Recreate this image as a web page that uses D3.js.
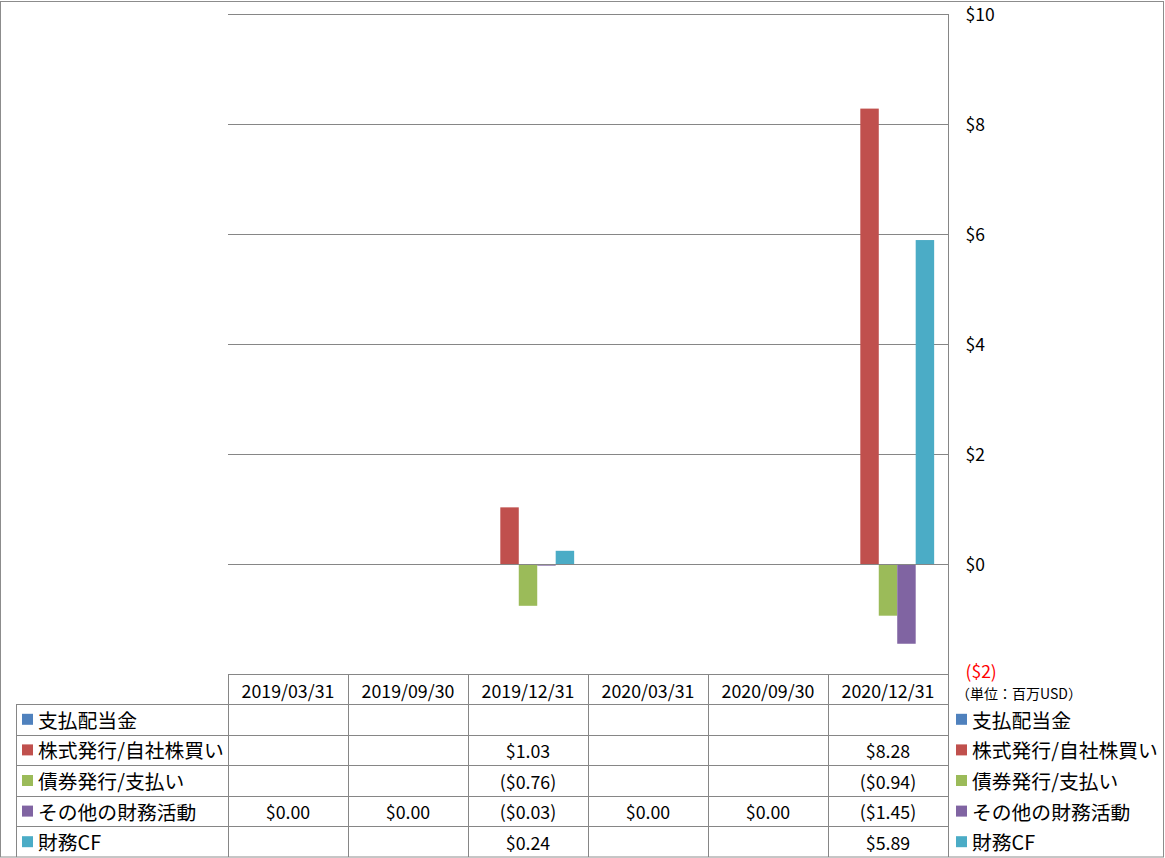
<!DOCTYPE html>
<html><head><meta charset="utf-8">
<script src="https://cdn.jsdelivr.net/npm/d3@7"></script>
<style>
html,body{margin:0;padding:0;background:#fff;}
svg{display:block;font-family:"Noto Sans CJK JP","Noto Sans",sans-serif;}
</style></head>
<body>
<script>
const categories = ["2019/03/31","2019/09/30","2019/12/31","2020/03/31","2020/09/30","2020/12/31"];
const seriesNames = ["支払配当金","株式発行/自社株買い","債券発行/支払い","その他の財務活動","財務CF"];
const seriesColors = ["#4F81BD","#C0504D","#9BBB59","#8064A2","#4BACC6"];
const dividends   = [null,null,null,null,null,null];
const equity      = [null,null,1.03,null,null,8.28];
const debt        = [null,null,-0.76,null,null,-0.94];
const otherFin    = [0,0,-0.03,0,0,-1.45];
const financingCF = [null,null,0.24,null,null,5.89];
const yTicks = [-2,0,2,4,6,8,10];
const unitLabel = "（単位：百万USD）";

const seriesValues = [dividends,equity,debt,otherFin,financingCF];

const W=1165,H=858;
const svg=d3.select("body").append("svg").attr("width",W).attr("height",H);
const grid="#868686";

svg.append("rect").attr("x",0.5).attr("y",1.5).attr("width",1163).attr("height",855.5)
  .attr("fill","none").attr("stroke","#8c8c8c");

const plotL=228,plotR=948,plotT=14,plotB=674;
const x=d3.scaleBand().domain(categories).range([plotL,plotR]).paddingInner(0).paddingOuter(0);
const xs=d3.scaleBand().domain(d3.range(seriesNames.length)).range([0,x.bandwidth()]).paddingInner(0).paddingOuter(0.75);
const y=d3.scaleLinear().domain([-2,10]).range([plotB,plotT]);

svg.append("g").selectAll("line").data(yTicks.filter(t=>t>-2)).join("line")
  .attr("x1",plotL).attr("x2",plotR)
  .attr("y1",d=>Math.round(y(d))+0.5).attr("y2",d=>Math.round(y(d))+0.5)
  .attr("stroke",grid).attr("stroke-width",1);

const barData=[];
seriesValues.forEach((vals,si)=>vals.forEach((v,ci)=>{ if(v!==null && v!==0) barData.push({si,ci,v}); }));
svg.append("g").selectAll("rect").data(barData).join("rect")
  .attr("x",d=>x(categories[d.ci])+xs(d.si))
  .attr("width",xs.bandwidth())
  .attr("y",d=>y(Math.max(0,d.v)))
  .attr("height",d=>Math.max(1,Math.abs(y(d.v)-y(0))))
  .attr("fill",d=>seriesColors[d.si]);

svg.append("line").attr("x1",plotL).attr("x2",plotR)
  .attr("y1",Math.round(y(0))+0.5).attr("y2",Math.round(y(0))+0.5).attr("stroke",grid);

const axis=d3.axisRight(y).tickValues(yTicks).tickSize(0).tickPadding(17)
  .tickFormat(d=>d<0?`($${Math.abs(d)})`:`$${d}`);
const ag=svg.append("g").attr("transform",`translate(${plotR+0.5},0)`).call(axis);
ag.select(".domain").remove();
ag.selectAll("text").attr("font-size","17.5px").attr("font-family","'Noto Sans CJK JP'")
  .attr("fill",d=>d<0?"#ff0000":"#000").attr("dy","0.35em");
ag.selectAll(".tick").filter(d=>d<0).select("text").attr("dy","0.2em");

svg.append("text").attr("x",956).attr("y",693).attr("font-size","14px").attr("dominant-baseline","central")
  .text(unitLabel);

svg.append("line").attr("x1",plotR+0.5).attr("x2",plotR+0.5).attr("y1",plotT).attr("y2",857).attr("stroke",grid);

const headerTop=plotB, rowH=30.6;
const rowTops=d3.range(seriesNames.length+1).map(i=>headerTop+30+i*rowH);
const tbl=svg.append("g");
tbl.append("line").attr("x1",plotL).attr("x2",plotR).attr("y1",headerTop+0.5).attr("y2",headerTop+0.5).attr("stroke",grid);
rowTops.slice(0,seriesNames.length).forEach(t=>{
  tbl.append("line").attr("x1",16).attr("x2",plotR).attr("y1",Math.round(t)+0.5).attr("y2",Math.round(t)+0.5).attr("stroke",grid);
});
tbl.append("line").attr("x1",16.5).attr("x2",16.5).attr("y1",rowTops[0]).attr("y2",857).attr("stroke",grid);
categories.forEach(c=>{
  const xx=Math.round(x(c))+0.5;
  tbl.append("line").attr("x1",xx).attr("x2",xx).attr("y1",headerTop).attr("y2",857).attr("stroke",grid);
});
tbl.selectAll("text.h").data(categories).join("text").attr("class","h")
  .attr("x",d=>x(d)+x.bandwidth()/2).attr("y",headerTop+15.5)
  .attr("text-anchor","middle").attr("dominant-baseline","central").attr("font-size","17.8px").text(d=>d);
const fmt=v=>v===null?"":(v<0?`($${Math.abs(v).toFixed(2)})`:`$${v.toFixed(2)}`);
seriesNames.forEach((name,si)=>{
  const cy=rowTops[si]+rowH/2;
  tbl.append("rect").attr("x",22).attr("y",cy-5.5).attr("width",11).attr("height",11).attr("fill",seriesColors[si]);
  tbl.append("text").attr("x",38).attr("y",cy).attr("dominant-baseline","central").attr("font-size","19.8px").text(name);
  categories.forEach((c,ci)=>{
    const v=seriesValues[si][ci];
    tbl.append("text").attr("x",x(c)+x.bandwidth()/2).attr("y",cy).attr("text-anchor","middle")
      .attr("dominant-baseline","central").attr("font-size","17.8px").text(fmt(v));
  });
  svg.append("rect").attr("x",956).attr("y",cy-5.5).attr("width",11).attr("height",11).attr("fill",seriesColors[si]);
  svg.append("text").attr("x",972).attr("y",cy).attr("dominant-baseline","central").attr("font-size","19.8px").text(name);
});
</script>
</body></html>
